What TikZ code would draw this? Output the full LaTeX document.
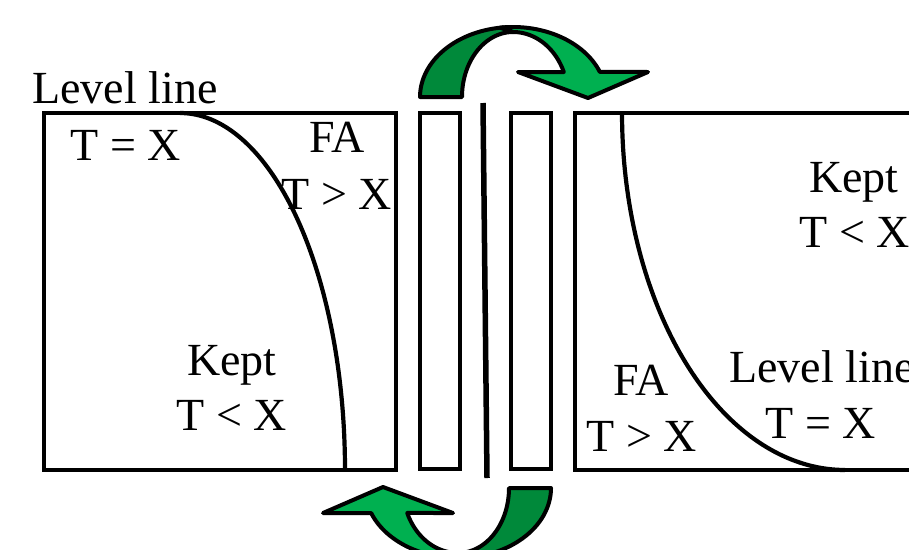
\documentclass[tikz,border=0pt]{standalone}
\usepackage{fontspec}
\setmainfont{Liberation Serif}
\definecolor{gdark}{RGB}{0,137,58}
\definecolor{glight}{RGB}{0,176,80}
\begin{document}
\begin{tikzpicture}[x=1pt,y=-1pt,
  box/.style={draw=black, line width=4.8pt},
  curveline/.style={draw=black, line width=4.2pt},
  lbl/.style={anchor=base, inner sep=0pt, font=\fontsize{46}{50}\selectfont},
  arw/.style={draw=black, line width=4pt, line join=round}]
\useasboundingbox (0,0) rectangle (909,549);
\clip (0,0) rectangle (909,549);

% left panel
\draw[box] (44,113) rectangle (396,470);
\draw[curveline] plot[domain=270:360, samples=80] ({180+165*cos(\x)},{470+357*sin(\x)});

% middle strips
\draw[box] (420,113) rectangle (460,469);
\draw[line width=5.5pt] (483,103) -- (487,478);
\draw[box] (511,113) rectangle (551,469);

% right panel
\draw[box] (575,113) rectangle (960,470);
\draw[curveline] plot[domain=180:90, samples=80] ({845+223*cos(\x)},{113+357*sin(\x)});

% curved arrows
\begin{scope}[arw]
  \filldraw[fill=gdark] (420,97)
    -- plot[domain=180:270, samples=40] ({513+93*cos(\x)},{97+70*sin(\x)})
    -- (513,32)
    -- plot[domain=270:180, samples=40] ({513+51*cos(\x)},{97+65*sin(\x)})
    -- cycle;
  \filldraw[fill=glight]
    plot[domain=262:339, samples=40] ({513+93*cos(\x)},{97+70*sin(\x)})
    -- (648,72) -- (588,98) -- (518,72)
    -- plot[domain=337.4:270, samples=40] ({513+55*cos(\x)},{97+65*sin(\x)})
    -- cycle;
\end{scope}
\begin{scope}[arw, rotate around={180:(485.5,292.5)}]
  \filldraw[fill=gdark] (420,97)
    -- plot[domain=180:270, samples=40] ({513+93*cos(\x)},{97+70*sin(\x)})
    -- (513,32)
    -- plot[domain=270:180, samples=40] ({513+51*cos(\x)},{97+65*sin(\x)})
    -- cycle;
  \filldraw[fill=glight]
    plot[domain=262:339, samples=40] ({513+93*cos(\x)},{97+70*sin(\x)})
    -- (648,72) -- (588,98) -- (518,72)
    -- plot[domain=337.4:270, samples=40] ({513+55*cos(\x)},{97+65*sin(\x)})
    -- cycle;
\end{scope}

% labels left
\node[lbl] (lvlL) at (125,103) {Level line};
\node[lbl] (teqL) at (126,160) {T = X};
\node[lbl] (faL) at (337,152) {FA};
\node[lbl] (tgtL) at (337,209) {T > X};
\node[lbl] (keptL) at (232,375) {Kept};
\node[lbl] (tltL) at (232,430) {T < X};

% labels right
\node[lbl] (keptR) at (854,192) {Kept};
\node[lbl] (tltR) at (855,247) {T < X};
\node[lbl] (lvlR) at (822,382) {Level line};
\node[lbl] (teqR) at (821,438) {T = X};
\node[lbl] (faR) at (641,395) {FA};
\node[lbl] (tgtR) at (642,451) {T > X};
\end{tikzpicture}
\end{document}
